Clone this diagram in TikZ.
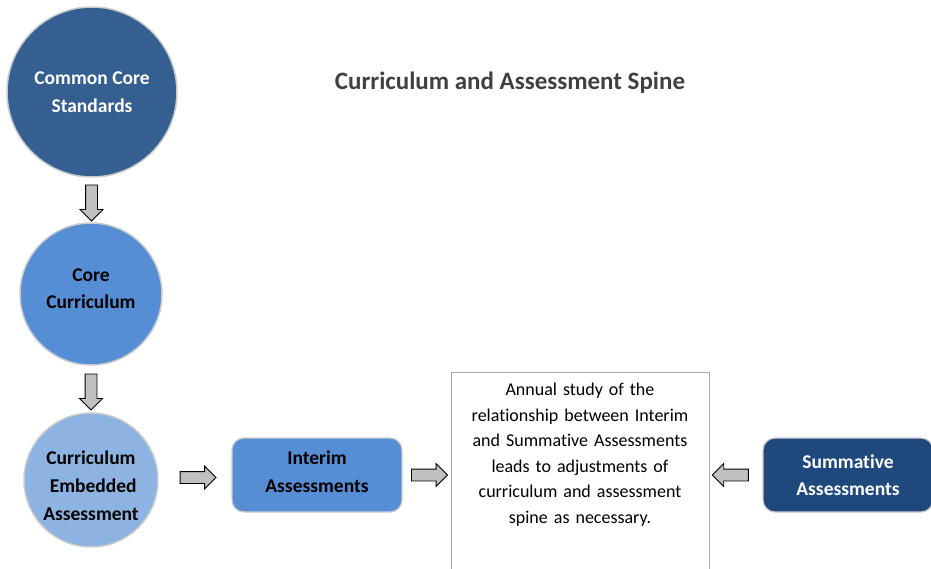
\documentclass[tikz,border=0pt]{standalone}
\usepackage{fontspec}
\setmainfont{Carlito}[RawFeature=-liga]
\usetikzlibrary{shapes.arrows,positioning,calc}

\definecolor{deepblue}{HTML}{365F91}
\definecolor{midblue}{HTML}{558ED5}
\definecolor{paleblue}{HTML}{8DB3E2}
\definecolor{navyblue}{HTML}{1F497D}
\definecolor{arrowgray}{HTML}{C0C0C0}
\definecolor{titlegray}{HTML}{404040}

% shift a label without changing its box
\newcommand{\nudge}[2]{\raisebox{#1}[\height][\depth]{\begin{tabular}{@{}c@{}}#2\end{tabular}}}

\begin{document}
\begin{tikzpicture}[
    x=1pt, y=-1pt,
    font=\fontsize{19.5}{27.5}\selectfont\bfseries,
    stage/.style={
        circle,
        draw=gray!40,
        line width=1.5pt,
        align=center,
        inner sep=0pt
    },
    block/.style={
        rectangle,
        draw=gray!40,
        line width=1.2pt,
        rounded corners=12pt,
        minimum width=170pt,
        minimum height=74pt,
        align=center
    },
    studybox/.style={
        rectangle,
        draw=gray!70,
        line width=1pt,
        fill=white,
        anchor=north,
        minimum width=258pt,
        minimum height=230pt
    },
    studytext/.style={
        font=\fontsize{18}{25.5}\selectfont,
        text width=250pt,
        align=center,
        inner sep=0pt
    },
    move/.style={
        single arrow,
        draw=black,
        fill=arrowgray,
        line width=0.9pt,
        minimum width=22pt,
        minimum height=36pt,
        single arrow head extend=5.5pt,
        inner xsep=0pt,
        inner ysep=5.5pt
    }
]
    \useasboundingbox (0,0) rectangle (931,569);

    % Nodes
    \node [font=\fontsize{25}{30}\selectfont\bfseries, text=titlegray] (title) at (510,83) {Curriculum and Assessment Spine};

    \node [stage, fill=deepblue, text=white, minimum size=170pt] (standards) at (92,92) {Common Core\\Standards};
    \node [stage, fill=midblue, minimum size=142pt] (core) at (91,294) {\nudge{5pt}{Core\\[-0.5pt]Curriculum}};
    \node [stage, fill=paleblue, minimum size=134pt] (embedded) at (91,480) {\nudge{-7pt}{Curriculum\\[0.5pt]\ Embedded\\[0.5pt]Assessment}};

    \node [block, fill=midblue] (interim) at (317,475) {\nudge{2pt}{Interim\\[0.5pt]Assessments}};
    \node [block, fill=navyblue, text=white] (summative) at (848,475) {Summative\\Assessments};

    \node [studybox] (study) at (580,372) {};
    \node [studytext, below=11pt of study.north] (note) {Annual study of the\\relationship between Interim\\and Summative Assessments\\leads to adjustments of\\curriculum and assessment\\spine as necessary.};

    % Arrows
    \node [move, rotate=-90] (a1) at ($(standards.south)!0.5!(core.north)$) {};
    \node [move, rotate=-90] (a2) at ($(core.south)!0.5!(embedded.north)$) {};
    \node [move] (a3) at ($(embedded.east)!0.5!(interim.west)$) {};
    \node [move] (a4) at ($(interim.east)!0.5!(study.west |- interim.east)$) {};
    \node [move, rotate=180] (a5) at ($(summative.west)!0.55!(study.east |- summative.west)$) {};

\end{tikzpicture}
\end{document}
